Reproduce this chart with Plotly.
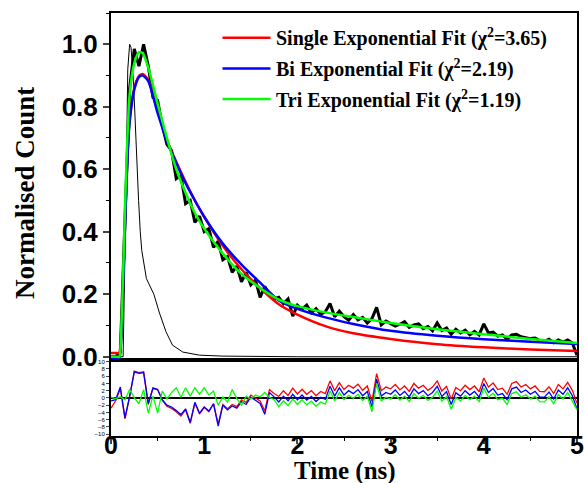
import numpy as np
import plotly.graph_objects as go

# ---------------- data ----------------
# data / residual grid (ns)
t_grid = np.round(np.arange(0, 5.0001, 0.05), 3).tolist()

decay_counts = [
    0.000, 0.000, 0.015, 0.46, 0.86, 0.985, 0.93, 1.000, 0.93, 0.83,
    0.82, 0.74, 0.68, 0.66, 0.57, 0.58, 0.49, 0.50, 0.43, 0.45,
    0.40, 0.41, 0.35, 0.37, 0.31, 0.32, 0.27, 0.29, 0.24, 0.27,
    0.23, 0.245, 0.19, 0.225, 0.20, 0.185, 0.19, 0.17, 0.185, 0.13,
    0.165, 0.152, 0.165, 0.140, 0.154, 0.136, 0.144, 0.17, 0.128, 0.146,
    0.128, 0.117, 0.135, 0.118, 0.126, 0.108, 0.122, 0.158, 0.102, 0.114,
    0.106, 0.098, 0.104, 0.112, 0.094, 0.102, 0.105, 0.09, 0.097, 0.083,
    0.108, 0.084, 0.092, 0.072, 0.088, 0.076, 0.085, 0.07, 0.081, 0.07,
    0.105, 0.076, 0.079, 0.066, 0.07, 0.056, 0.07, 0.072, 0.064, 0.062,
    0.058, 0.06, 0.052, 0.05, 0.056, 0.045, 0.054, 0.047, 0.054, 0.044,
    0.005]

# instrument response function
t_irf = [0, 0.13, 0.16, 0.18, 0.20, 0.215, 0.243, 0.271, 0.296, 0.314, 0.33, 0.38,
         0.46, 0.52, 0.59, 0.66, 0.77, 0.95, 1.2, 2.0, 5.0]
irf = [0, 0, 0.5, 0.92, 1.0, 0.99, 0.87, 0.66, 0.50, 0.40, 0.34, 0.25,
       0.20, 0.14, 0.08, 0.037, 0.015, 0.005, 0.002, 0.0, 0.0]

# fits
t_fit = [0, 0.05, 0.09, 0.10, 0.12, 0.15, 0.17, 0.20, 0.25, 0.30, 0.34, 0.40, 0.50, 0.60,
         0.70, 0.80, 0.90, 1.0, 1.2, 1.4, 1.6, 1.8, 2.0, 2.3, 2.6, 3.0, 3.5, 4.0, 4.5, 5.0]
fit_single = [0.012, 0.012, 0.012, 0.03, 0.15, 0.42, 0.60, 0.76, 0.86, 0.898, 0.905, 0.885,
              0.79, 0.693, 0.624, 0.56, 0.50, 0.448, 0.355, 0.28, 0.22, 0.168, 0.135,
              0.098, 0.075, 0.057, 0.040, 0.030, 0.023, 0.018]
fit_bi = [-0.004, -0.004, -0.004, 0.015, 0.14, 0.41, 0.59, 0.75, 0.855, 0.895, 0.90, 0.882,
          0.78, 0.69, 0.62, 0.555, 0.50, 0.448, 0.362, 0.295, 0.237, 0.18, 0.153,
          0.126, 0.105, 0.083, 0.067, 0.056, 0.048, 0.041]
fit_tri = [0, 0, 0, 0.02, 0.17, 0.47, 0.66, 0.84, 0.94, 0.975, 0.972, 0.925,
           0.81, 0.70, 0.60, 0.525, 0.46, 0.41, 0.33, 0.265, 0.22, 0.183, 0.162,
           0.142, 0.127, 0.108, 0.088, 0.072, 0.057, 0.044]

# residuals
res_single = [
    -2.8, -0.8, 2.6, -5.8, 0.3, 7.4, 7.0, 7.2, -1.8, 2.6,
    2.3, -0.6, -2.3, -2.9, -3.8, -5.0, -3.3, -7.0, -1.4, -4.4,
    -2.6, -3.8, -1.6, -7.2, -1.8, -3.0, -1.8, -2.4, -0.5, -1.2,
    0.8, 0.0, -0.8, -3.6, 2.3, 1.2, 0.4, 2.0, 0.7, 2.7,
    1.1, 2.4, 1.0, 2.0, 0.6, 1.8, 1.2, 4.7, 2.0, 4.2,
    2.3, 3.5, 2.7, 3.8, 2.1, 3.3, -1.0, 6.7, 2.0, 3.0,
    2.5, 3.7, 2.2, 3.3, 1.8, 4.0, 2.7, 3.5, 2.1, 3.0,
    4.7, 1.9, 3.2, -0.3, 2.9, 2.0, 3.5, 2.3, 3.3, 1.7,
    5.5, 3.0, 4.1, 2.3, 2.7, 1.0, 4.0, 4.5, 3.0, 3.7,
    2.5, 3.3, 1.8, 1.7, 3.1, 1.2, 3.7, 2.5, 4.3, 2.1,
    -1.5]
res_bi = [
    -0.8, -0.5, 3.0, -5.5, 0.5, 7.2, 6.8, 7.0, -1.5, 2.8,
    2.3, -0.5, -2.0, -2.5, -3.5, -4.6, -3.0, -6.8, -1.2, -4.2,
    -2.5, -3.6, -1.6, -7.8, -2.0, -3.3, -2.2, -2.8, -1.0, -1.8,
    0.2, -0.7, -1.5, -4.5, 1.5, 0.3, -1.1, 0.5, -0.8, 1.0,
    -0.5, 0.8, -0.6, 0.4, -1.0, 0.2, -0.4, 3.2, 0.5, 2.8,
    0.8, 2.0, 1.2, 2.3, 0.6, 1.8, -2.5, 5.2, 0.5, 1.5,
    1.0, 2.2, 0.7, 1.8, 0.3, 2.5, 1.2, 2.0, 0.6, 1.5,
    3.2, 0.4, 1.7, -1.8, 1.4, 0.5, 2.0, 0.8, 1.8, 0.2,
    4.0, 1.5, 2.6, 0.8, 1.2, -0.5, 2.5, 3.0, 1.5, 2.2,
    1.0, 1.8, 0.3, 0.2, 1.6, -0.3, 2.2, 1.0, 2.8, 0.6,
    -3.0]
res_tri = [
    0.2, -0.2, 0.3, -0.5, 2.3, 0.0, -1.6, 2.3, -4.2, 0.5,
    -4.2, 1.9, -0.3, 1.5, 2.8, 0.2, 2.8, 0.5, 2.8, 1.0,
    2.8, 0.8, 1.9, -2.0, 0.3, -1.1, 2.3, -0.2, -2.0, 0.5,
    -0.3, 0.8, 0.3, 1.5, 0.2, -0.5, -2.4, -0.8, -2.1, -0.3,
    -1.8, -0.5, -1.9, -0.9, -2.3, -1.1, -1.7, 1.9, -0.8, 1.5,
    -0.5, 0.7, -0.1, 1.0, -0.7, 0.5, -3.8, 3.9, -0.8, 0.2,
    -0.3, 0.9, -0.6, 0.5, -1.0, 1.2, -0.1, 0.7, -0.7, 0.2,
    1.9, -0.9, 0.4, -3.1, 0.1, -0.8, 0.7, -0.5, 0.5, -1.1,
    2.7, 0.2, 1.3, -0.5, -0.1, -1.8, 1.2, 1.7, 0.2, 0.9,
    -0.3, 0.5, -1.0, -1.1, 0.3, -1.6, 0.9, -0.3, 1.5, -0.7,
    -3.3]

names = ["Single Exponential Fit (χ<sup>2</sup>=3.65)",
         "Bi Exponential Fit (χ<sup>2</sup>=2.19)",
         "Tri Exponential Fit (χ<sup>2</sup>=1.19)"]
colors = ["#ff0000", "#0000ff", "#00ff00"]
x_ticks = [0, 1, 2, 3, 4, 5]
y_ticks = [0.0, 0.2, 0.4, 0.6, 0.8, 1.0]
res_ticks = [-10, -8, -6, -4, -2, 0, 2, 4, 6, 8, 10]

# ---------------- figure ----------------
W, H = 584, 483
ML, MR, MT, MB = 111, 7, 13, 47
PW, PH = W - ML - MR, H - MT - MB


def px_x(px):
    return (px - ML) / PW


def px_y(py):
    return 1 - (py - MT) / PH


fig = go.Figure()

# main panel (x2, y2)
fig.add_trace(go.Scatter(x=t_irf, y=irf, mode="lines", line=dict(color="black", width=1),
                         xaxis="x2", yaxis="y2", showlegend=False))
fig.add_trace(go.Scatter(x=t_grid, y=decay_counts, mode="lines", line=dict(color="black", width=3),
                         xaxis="x2", yaxis="y2", showlegend=False))
for fit, name, col in zip([fit_single, fit_bi, fit_tri], names, colors):
    fig.add_trace(go.Scatter(x=t_fit, y=fit, mode="lines", name=name,
                             line=dict(color=col, width=2.5, shape="spline", smoothing=0.6),
                             xaxis="x2", yaxis="y2", showlegend=False))

# residual panel (x, y)
for res, col in zip([res_single, res_bi, res_tri], colors):
    fig.add_trace(go.Scatter(x=t_grid, y=res, mode="lines", line=dict(color=col, width=1.3),
                             xaxis="x", yaxis="y", showlegend=False))

sans = "Liberation Sans, Arial, sans-serif"
serif = "Liberation Serif, Times New Roman, serif"

# legend drawn as key lines + text
shapes, annotations = [], []
for i, (name, col) in enumerate(zip(names, colors)):
    yrow = px_y(37.7 + i * 30.7)
    shapes.append(dict(type="line", xref="paper", yref="paper", x0=px_x(222.5), x1=px_x(270.5),
                       y0=yrow, y1=yrow, line=dict(color=col, width=2.5)))
    annotations.append(dict(text=name, xref="paper", yref="paper", x=px_x(274), y=yrow,
                            xanchor="left", yanchor="middle", showarrow=False,
                            font=dict(family=serif, size=20, color="black", weight="bold")))

# axis titles
annotations.append(dict(text="Time (ns)", xref="paper", yref="paper", x=px_x(345), y=px_y(471),
                        xanchor="center", yanchor="middle", showarrow=False,
                        font=dict(family=serif, size=25, color="black", weight="bold")))
annotations.append(dict(text="Normalised Count", xref="paper", yref="paper", x=px_x(25),
                        y=px_y(193), xanchor="center", yanchor="middle", showarrow=False,
                        textangle=-90,
                        font=dict(family=serif, size=27, color="black", weight="bold")))

fig.update_layout(
    width=W, height=H,
    margin=dict(l=ML, r=MR, t=MT, b=MB, autoexpand=False),
    paper_bgcolor="white", plot_bgcolor="white",
    showlegend=False,
    shapes=shapes, annotations=annotations,
    xaxis=dict(domain=[0, 1], range=[0, 5], tickvals=x_ticks, ticks="outside", ticklen=6,
               tickwidth=1.5, showline=True, linecolor="black", linewidth=2, mirror=True,
               showgrid=False, zeroline=False, automargin=False,
               ticklabelstandoff=-20, ticklabeloverflow="allow",
               minor=dict(dtick=0.5, ticks="outside", ticklen=3, tickwidth=1, tickcolor="black"),
               tickfont=dict(family=sans, size=25, color="black", weight="bold")),
    yaxis=dict(domain=[0, 0.18], range=[-10.5, 10.5], tickvals=res_ticks, ticks="outside",
               ticklen=3, tickwidth=1, showline=True, linecolor="black", linewidth=2,
               mirror=True, showgrid=False, zeroline=True, zerolinecolor="black",
               zerolinewidth=1.5, automargin=False,
               tickfont=dict(family=sans, size=6, color="black")),
    xaxis2=dict(domain=[0, 1], range=[0, 5], anchor="y2", matches="x", showticklabels=False,
                ticks="", showline=True, linecolor="black", linewidth=2, mirror=True,
                showgrid=False, zeroline=False, automargin=False),
    yaxis2=dict(domain=[0.18, 1], range=[-0.01, 1.1], anchor="x2", tickvals=y_ticks,
                ticktext=["0.0", "0.2", "0.4", "0.6", "0.8", "1.0"],
                ticks="outside", ticklen=6, tickwidth=1.5, showline=True, linecolor="black",
                linewidth=2, mirror=True, showgrid=False, zeroline=False, automargin=False,
                minor=dict(dtick=0.1, ticks="outside", ticklen=3, tickwidth=1, tickcolor="black"),
                tickfont=dict(family=sans, size=26, color="black", weight="bold")),
)

fig.write_html("out.html")
